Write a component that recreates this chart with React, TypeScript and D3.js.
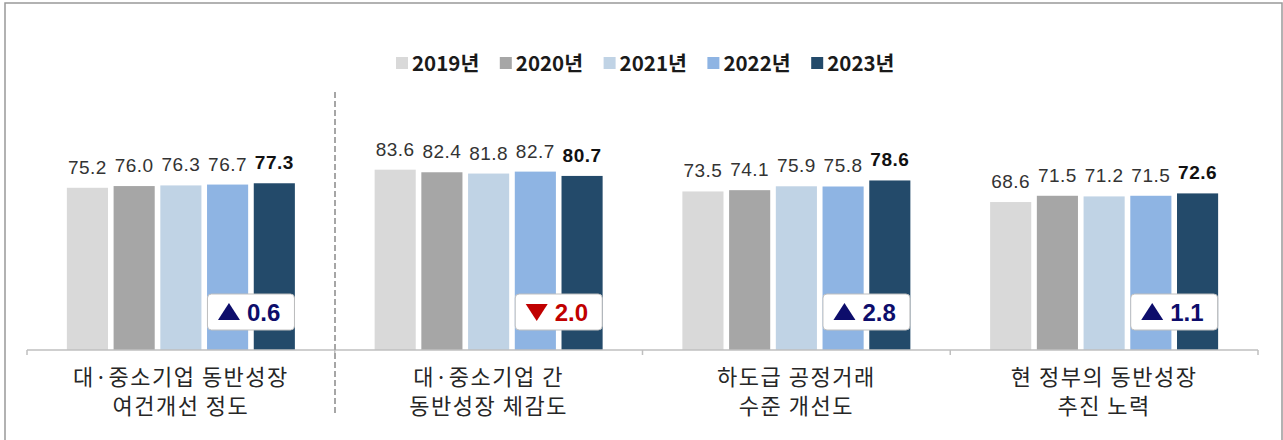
import React from "react";
import * as d3 from "d3";

const categories = ["대·중소기업 동반성장|여건개선 정도", "대·중소기업 간|동반성장 체감도", "하도급 공정거래|수준 개선도", "현 정부의 동반성장|추진 노력"];
const years = ["2019년", "2020년", "2021년", "2022년", "2023년"];
const values2019 = [75.2, 83.6, 73.5, 68.6];
const values2020 = [76.0, 82.4, 74.1, 71.5];
const values2021 = [76.3, 81.8, 75.9, 71.2];
const values2022 = [76.7, 82.7, 75.8, 71.5];
const values2023 = [77.3, 80.7, 78.6, 72.6];
const changes = [0.6, -2.0, 2.8, 1.1];
const colors = ["#D9D9D9", "#A6A6A6", "#C0D3E5", "#8EB4E3", "#234A6A"];

const series = [values2019, values2020, values2021, values2022, values2023];

const W = 1283;
const H = 440;

export default function App() {
  const x = d3.scaleBand<string>().domain(categories).range([27, 1258]).padding(0);
  const xi = d3.scaleBand<string>().domain(years).range([-114, 114]).paddingInner(0.12);
  const y = d3.scaleLinear().domain([0, 100]).range([350, 134.3]);
  const numFont = "'Liberation Sans', Arial, sans-serif";
  const korFont = "'Noto Sans CJK KR', 'Noto Sans', sans-serif";

  const bounds = categories.map((c) => x(c)!);
  bounds.push(1258);

  return (
    <svg width={W} height={H} style={{ position: "absolute", left: 0, top: 0, background: "#fff" }}>
      <rect x={5} y={3} width={1277} height={440} fill="#fff" stroke="#999" strokeWidth={1.5} />
      {/* legend */}
      {years.map((yr, i) => {
        const lx = 396 + i * 103.8;
        return (
          <g key={yr}>
            <rect x={lx} y={57} width={12} height={12} fill={colors[i]} />
            <text x={lx + 16} y={71} fontFamily={korFont} fontWeight={700} fontSize={20.5} fill="#1a1a1a">
              {yr}
            </text>
          </g>
        );
      })}
      {/* bars */}
      {categories.map((c, ci) => {
        const cx = x(c)! + x.bandwidth() / 2;
        return (
          <g key={c}>
            {years.map((yr, si) => {
              const v = series[si][ci];
              const bx = cx + xi(yr)!;
              const last = si === years.length - 1;
              return (
                <g key={yr}>
                  <rect x={bx} y={y(v)} width={xi.bandwidth()} height={y(0) - y(v)} fill={colors[si]} />
                  <text
                    x={bx + xi.bandwidth() / 2}
                    y={y(v) - 14}
                    textAnchor="middle"
                    fontFamily={numFont}
                    fontSize={19}
                    fontWeight={last ? 700 : 400}
                    letterSpacing={0.5}
                    fill={last ? "#111" : "#333"}
                  >
                    {v.toFixed(1)}
                  </text>
                </g>
              );
            })}
          </g>
        );
      })}
      {/* badges */}
      {categories.map((c, ci) => {
        const cx = x(c)! + x.bandwidth() / 2;
        const bcx = cx + (xi(years[3])! + xi(years[4])! + xi.bandwidth()) / 2;
        const up = changes[ci] >= 0;
        const col = up ? "#0D0D6B" : "#C00000";
        const tx = bcx - 33;
        const ty = 312;
        const tri = up
          ? `M${tx},${ty + 8} L${tx + 22},${ty + 8} L${tx + 11},${ty - 9} Z`
          : `M${tx},${ty - 8} L${tx + 22},${ty - 8} L${tx + 11},${ty + 9} Z`;
        return (
          <g key={c}>
            <rect x={bcx - 43.5} y={294} width={87} height={36} rx={4} fill="#fff" stroke="#BFBFBF" strokeWidth={1} />
            <path d={tri} fill={col} />
            <text x={bcx - 4} y={320.5} fontFamily={numFont} fontWeight={700} fontSize={24} fill={col}>
              {Math.abs(changes[ci]).toFixed(1)}
            </text>
          </g>
        );
      })}
      {/* axis */}
      <line x1={27} x2={1258} y1={350} y2={350} stroke="#BFBFBF" strokeWidth={1.5} />
      {bounds.map((b, i) => (
        <line key={i} x1={b} x2={b} y1={350} y2={355} stroke="#BFBFBF" strokeWidth={1.5} />
      ))}
      {/* separator */}
      <line x1={335} x2={335} y1={92} y2={415} stroke="#A6A6A6" strokeWidth={2} strokeDasharray="6,3" />
      {/* category labels */}
      {categories.map((c) => {
        const cx = x(c)! + x.bandwidth() / 2;
        return (
          <g key={c}>
            {c.split("|").map((line, li) => (
              <text
                key={li}
                x={cx}
                y={384.5 + li * 29}
                textAnchor="middle"
                fontFamily={korFont}
                fontSize={22}
                letterSpacing={1.5}
                fill="#262626"
              >
                {line}
              </text>
            ))}
          </g>
        );
      })}
    </svg>
  );
}
